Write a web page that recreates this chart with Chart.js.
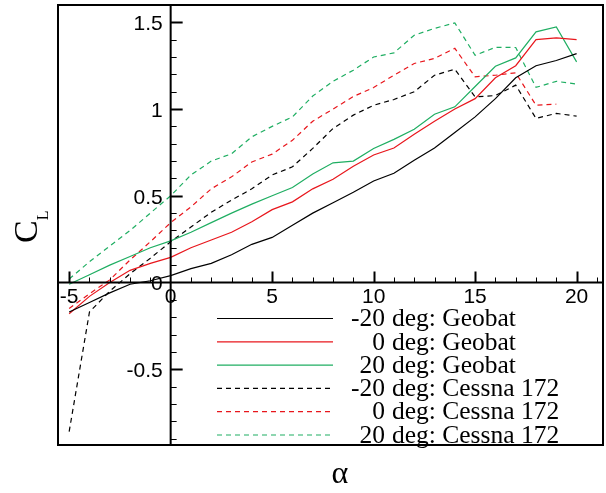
<!DOCTYPE html>
<html>
<head>
<meta charset="utf-8">
<script src="https://cdn.jsdelivr.net/npm/chart.js@4.4.1/dist/chart.umd.min.js"></script>
<style>
  html, body { margin: 0; padding: 0; background: #fff; }
</style>
</head>
<body>
<canvas id="cl-alpha" width="606" height="493"></canvas>
<script>
// angle of attack (deg)
const alpha = [-5, -4, -3, -2, -1, 0, 1, 2, 3, 4, 5, 6, 7, 8, 9, 10, 11, 12, 13, 14, 15, 16, 17, 18, 19, 20];

// lift coefficient, Geobat
const geobatM20 = [-0.17, -0.115, -0.06, -0.01, 0.01, 0.04, 0.08, 0.11, 0.16, 0.22, 0.26, 0.33, 0.40, 0.46, 0.52, 0.585, 0.63, 0.705, 0.775, 0.865, 0.955, 1.06, 1.18, 1.25, 1.28, 1.32];
const geobat0   = [-0.18, -0.08, 0.0, 0.07, 0.11, 0.145, 0.2, 0.245, 0.29, 0.35, 0.42, 0.465, 0.54, 0.595, 0.67, 0.735, 0.775, 0.855, 0.93, 1.0, 1.06, 1.18, 1.25, 1.40, 1.41, 1.40];
const geobat20  = [-0.01, 0.045, 0.1, 0.15, 0.2, 0.24, 0.29, 0.345, 0.4, 0.452, 0.5, 0.548, 0.625, 0.69, 0.70, 0.773, 0.825, 0.884, 0.97, 1.013, 1.13, 1.247, 1.295, 1.445, 1.474, 1.272];

// lift coefficient, Cessna 172
const cessnaM20 = [-0.86, -0.17, -0.05, 0.05, 0.14, 0.235, 0.32, 0.405, 0.475, 0.54, 0.62, 0.667, 0.773, 0.888, 0.965, 1.022, 1.055, 1.1, 1.195, 1.23, 1.07, 1.078, 1.138, 0.946, 0.975, 0.959];
const cessna0   = [-0.15, -0.065, 0.015, 0.13, 0.235, 0.345, 0.436, 0.54, 0.609, 0.695, 0.74, 0.82, 0.93, 1.0, 1.072, 1.124, 1.195, 1.263, 1.292, 1.35, 1.186, 1.195, 1.209, 1.022, 1.028];
const cessna20  = [0.02, 0.12, 0.21, 0.3, 0.4, 0.5, 0.62, 0.7, 0.742, 0.84, 0.9, 0.955, 1.075, 1.16, 1.224, 1.30, 1.324, 1.426, 1.465, 1.497, 1.31, 1.356, 1.355, 1.125, 1.16, 1.144];

const seriesLabels = ['-20 deg: Geobat', '0  deg: Geobat', '20 deg: Geobat',
                      '-20 deg: Cessna 172', '0  deg: Cessna 172', '20 deg: Cessna 172'];

const xMajorTicks = [-5, 0, 5, 10, 15, 20];
const yMajorTicks = [-0.5, 0, 0.5, 1, 1.5];
const yTickLabels = ['-0.5', '0', '0.5', '1', '1.5'];

const BLACK = '#000000';
const RED = '#e8161c';
const GREEN = '#1fae62';

function pts(values) {
  return values.map((v, i) => ({ x: alpha[i], y: v }));
}

const series = [geobatM20, geobat0, geobat20, cessnaM20, cessna0, cessna20];
const colors = [BLACK, RED, GREEN, BLACK, RED, GREEN];
const dashes = [[], [], [], [5, 4], [5, 4], [5, 4]];

// axes through the origin, frame, legend and titles
const tecplotLook = {
  id: 'tecplotLook',
  afterDraw(chart) {
    const ctx = chart.ctx;
    const a = chart.chartArea;
    const xs = chart.scales.x, ys = chart.scales.y;
    const x0 = xs.getPixelForValue(0);
    const y0 = ys.getPixelForValue(0);

    ctx.save();
    ctx.strokeStyle = '#000';
    ctx.fillStyle = '#000';

    // frame
    ctx.lineWidth = 2;
    ctx.strokeRect(a.left, a.top, a.right - a.left, a.bottom - a.top);

    // axis lines
    ctx.beginPath();
    ctx.moveTo(x0, a.top); ctx.lineTo(x0, a.bottom);
    ctx.moveTo(a.left, y0); ctx.lineTo(a.right, y0);
    ctx.stroke();

    // x ticks (pointing up from y=0)
    for (let v = -5; v <= 21; v++) {
      if (v === 0) continue;
      const px = Math.round(xs.getPixelForValue(v)) + 0.5;
      const major = v % 5 === 0;
      ctx.lineWidth = major ? 2 : 1;
      ctx.beginPath();
      ctx.moveTo(px, y0);
      ctx.lineTo(px, y0 - (major ? 11 : 5));
      ctx.stroke();
    }
    // y ticks (pointing right from x=0)
    for (let k = -9; k <= 16; k++) {
      if (k === 0) continue;
      const py = Math.round(ys.getPixelForValue(k / 10)) + 0.5;
      const major = k % 5 === 0;
      ctx.lineWidth = major ? 2 : 1;
      ctx.beginPath();
      ctx.moveTo(x0, py);
      ctx.lineTo(x0 + (major ? 12 : 6), py);
      ctx.stroke();
    }

    // tick labels
    ctx.font = '21px "Liberation Sans", Arial, sans-serif';
    ctx.textAlign = 'center';
    ctx.textBaseline = 'middle';
    xMajorTicks.forEach(v => {
      ctx.fillText(String(v), xs.getPixelForValue(v), y0 + 15);
    });
    ctx.textAlign = 'right';
    yMajorTicks.forEach((v, i) => {
      ctx.fillText(yTickLabels[i], x0 - 8, ys.getPixelForValue(v) + 2);
    });

    // legend
    ctx.font = '25.5px "Liberation Serif", "Times New Roman", serif';
    seriesLabels.forEach((lab, i) => {
      const ry = 318.5 + i * 23.3;
      ctx.strokeStyle = colors[i];
      ctx.lineWidth = 1.2;
      ctx.setLineDash(dashes[i]);
      ctx.beginPath();
      ctx.moveTo(217, ry); ctx.lineTo(333, ry);
      ctx.stroke();
      ctx.setLineDash([]);
      const cut = lab.indexOf('deg');
      ctx.textAlign = 'right';
      ctx.fillText(lab.slice(0, cut).trim(), 385, ry + 1);
      ctx.textAlign = 'left';
      ctx.fillText(lab.slice(cut), 392, ry + 1);
    });

    // axis titles
    ctx.textBaseline = 'alphabetic';
    ctx.textAlign = 'left';
    ctx.save();
    ctx.translate(37, 243);
    ctx.rotate(-Math.PI / 2);
    ctx.font = '34px "Liberation Serif", "Times New Roman", serif';
    ctx.fillText('C', 0, 0);
    const cw = ctx.measureText('C').width;
    ctx.font = '16px "Liberation Serif", "Times New Roman", serif';
    ctx.fillText('L', cw, 11);
    ctx.restore();

    ctx.font = '32px "Liberation Serif", "Times New Roman", serif';
    ctx.textAlign = 'center';
    ctx.fillText('\u03b1', 340, 483);

    ctx.restore();
  }
};

new Chart(document.getElementById('cl-alpha'), {
  type: 'line',
  data: {
    datasets: series.map((s, i) => ({
      label: seriesLabels[i],
      data: pts(s),
      borderColor: colors[i],
      borderWidth: 1.2,
      borderDash: dashes[i],
      pointRadius: 0,
      tension: 0,
      fill: false
    }))
  },
  options: {
    responsive: false,
    animation: false,
    layout: { padding: { left: 58, right: 3, top: 5, bottom: 48 } },
    plugins: { legend: { display: false }, tooltip: { enabled: false } },
    scales: {
      x: { type: 'linear', min: -5.55, max: 21.3, display: false },
      y: { type: 'linear', min: -0.937, max: 1.6, display: false }
    }
  },
  plugins: [tecplotLook]
});
</script>
</body>
</html>
